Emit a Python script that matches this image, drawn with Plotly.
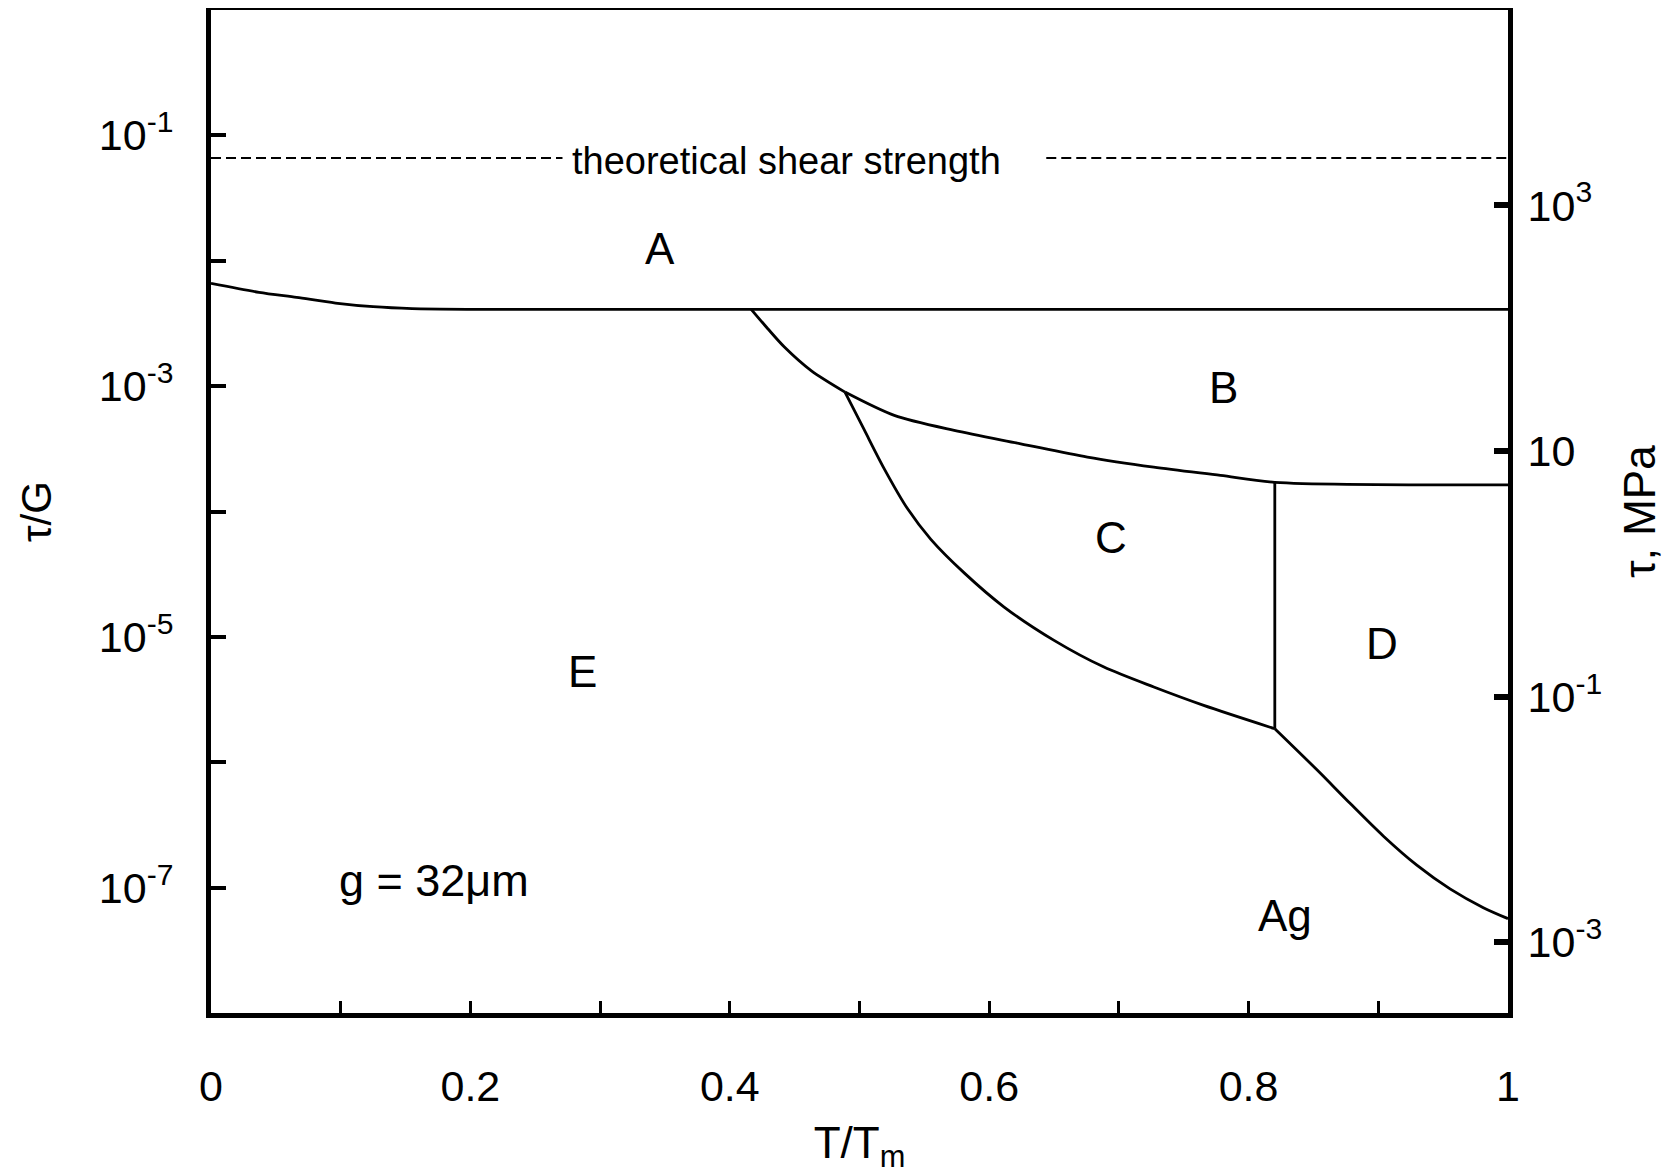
import math
import plotly.graph_objects as go

# ---------------- data ----------------
# boundary between regions A and E/B (tau/G vs T/Tm)
ae_T = [0.0, 0.037, 0.066, 0.096, 0.125, 0.155, 0.20, 1.0]
ae_tau = [6.6e-3, 5.6e-3, 5.1e-3, 4.6e-3, 4.3e-3, 4.15e-3, 4.1e-3, 4.1e-3]

# boundary B / E (from the A line down to the triple point)
be_T = [0.4165, 0.4293, 0.4421, 0.4627, 0.4888]
be_tau = [4.1e-3, 2.87e-3, 2.05e-3, 1.33e-3, 8.96e-4]

# boundary B / C and B / D
bc_T = [0.4888, 0.5268, 0.573, 0.6243, 0.6757, 0.7269, 0.7783, 0.8202, 1.0]
bc_tau = [8.96e-4, 5.84e-4, 4.43e-4, 3.47e-4, 2.72e-4, 2.26e-4, 1.94e-4, 1.71e-4, 1.63e-4]

# boundary C / E
ce_T = [0.4888, 0.5037, 0.5191, 0.5371, 0.555, 0.5807, 0.6115, 0.65, 0.6885,
        0.7269, 0.7654, 0.8202]
ce_tau = [8.96e-4, 4.47e-4, 2.19e-4, 1.05e-4, 6.0e-5, 3.24e-5, 1.73e-5, 9.38e-6,
          5.74e-6, 3.98e-6, 2.84e-6, 1.85e-6]

# boundary C / D (vertical)
cd_T = [0.8202, 0.8202]
cd_tau = [1.71e-4, 1.85e-6]

# boundary D / elastic (Ag)
dg_T = [0.8202, 0.8527, 0.8784, 0.904, 0.9297, 0.9553, 0.981, 1.0]
dg_tau = [1.85e-6, 8.7e-7, 4.68e-7, 2.57e-7, 1.51e-7, 9.77e-8, 6.92e-8, 5.66e-8]

# theoretical shear strength (dashed, interrupted by its label)
theo_tau = 0.066
theo_left_T = [0.0, 0.271]
theo_right_T = [0.644, 1.0]
theo_label = "theoretical shear strength"
theo_label_T = 0.444
theo_label_tau = 0.062

# region labels
region_text = ["A", "B", "C", "D", "E", "Ag"]
region_T = [0.3464, 0.7808, 0.6936, 0.9027, 0.2862, 0.8283]
region_tau = [1.25e-2, 9.8e-4, 6.25e-5, 8.8e-6, 5.26e-6, 6.0e-8]

grain_text = "g = 32\u03bcm"
grain_T = 0.097
grain_tau = 1.13e-7

# axes ticks
x_tickvals = [0.0, 0.1, 0.2, 0.3, 0.4, 0.5, 0.6, 0.7, 0.8, 0.9, 1.0]
x_ticktext = ["0", "", "0.2", "", "0.4", "", "0.6", "", "0.8", "", "1"]
y_tickvals = [1e-1, 1e-2, 1e-3, 1e-4, 1e-5, 1e-6, 1e-7]
y_ticktext = ["10<sup>-1</sup>", "", "10<sup>-3</sup>", "", "10<sup>-5</sup>", "",
              "10<sup>-7</sup>"]
y2_tickvals = [1e3, 1e1, 1e-1, 1e-3]
y2_ticktext = ["10<sup>3</sup>", "10", "10<sup>-1</sup>", "10<sup>-3</sup>"]

# ---------------- figure ----------------
FONT = "Liberation Sans, Arial, Helvetica, sans-serif"
fig = go.Figure()

solid = dict(color="black", width=2.8, smoothing=0.8)
for xs, ys in [(ae_T, ae_tau), (be_T, be_tau), (bc_T, bc_tau), (ce_T, ce_tau),
               (cd_T, cd_tau), (dg_T, dg_tau)]:
    fig.add_trace(go.Scatter(x=xs, y=ys, mode="lines", line=solid,
                             line_shape="spline", showlegend=False, hoverinfo="skip"))

dash = dict(color="black", width=1.8, dash="10px,5px")
for xs in (theo_left_T, theo_right_T):
    fig.add_trace(go.Scatter(x=xs, y=[theo_tau] * len(xs), mode="lines", line=dash,
                             showlegend=False, hoverinfo="skip"))

# empty trace so that the right-hand (tau, MPa) axis is drawn
fig.add_trace(go.Scatter(x=[], y=[], yaxis="y2", mode="lines",
                         showlegend=False, hoverinfo="skip"))

fig.add_annotation(x=theo_label_T, y=math.log10(theo_label_tau), yref="y", xref="x",
                   text=theo_label, showarrow=False,
                   font=dict(family=FONT, size=38, color="black"),
                   xanchor="center", yanchor="middle")

for t, xv, yv in zip(region_text, region_T, region_tau):
    fig.add_annotation(x=xv, y=math.log10(yv), xref="x", yref="y",
                       text=t, showarrow=False,
                       font=dict(family=FONT, size=44, color="black"),
                       xanchor="center", yanchor="middle")

fig.add_annotation(x=grain_T, y=math.log10(grain_tau), xref="x", yref="y",
                   text=grain_text, showarrow=False,
                   font=dict(family=FONT, size=45, color="black"),
                   xanchor="left", yanchor="middle")

# the page body has an 8px margin, so the figure is offset by 8px
fig.update_layout(
    width=1669, height=1166,
    margin=dict(l=203, r=169, t=2, b=161, autoexpand=False),
    plot_bgcolor="white", paper_bgcolor="white",
    showlegend=False,
    font=dict(family=FONT, color="black", size=43),
    xaxis=dict(
        range=[0, 1], tickvals=x_tickvals, ticktext=x_ticktext,
        ticks="inside", ticklen=12, tickwidth=3, tickcolor="black",
        showline=True, linewidth=5, linecolor="black", mirror=True,
        showgrid=False, zeroline=False, automargin=False,
        tickfont=dict(family=FONT, size=43, color="black"),
        ticklabelstandoff=31,
        title=dict(text="T/T<sub>m</sub>", font=dict(family=FONT, size=44, color="black"),
                   standoff=43),
    ),
    yaxis=dict(
        type="log", range=[-8, 0], tickvals=y_tickvals, ticktext=y_ticktext,
        ticks="inside", ticklen=15, tickwidth=4, tickcolor="black",
        showline=True, linewidth=5, linecolor="black", mirror=False,
        showgrid=False, zeroline=False, automargin=False,
        tickfont=dict(family=FONT, size=43, color="black"),
        ticklabelstandoff=24,
        title=dict(text="\u03c4/G", font=dict(family=FONT, size=42, color="black"),
                   standoff=36),
    ),
    yaxis2=dict(
        type="log", overlaying="y", side="right", anchor="x",
        range=[-3.578, 4.592], tickvals=y2_tickvals, ticktext=y2_ticktext,
        ticks="inside", ticklen=14, tickwidth=6, tickcolor="black",
        showline=True, linewidth=5, linecolor="black",
        showgrid=False, zeroline=False, automargin=False,
        tickfont=dict(family=FONT, size=43, color="black"),
        ticklabelstandoff=6,
        title=dict(text="\u03c4, MPa", font=dict(family=FONT, size=44, color="black"),
                   standoff=24),
    ),
)

fig.write_html("out.html")
